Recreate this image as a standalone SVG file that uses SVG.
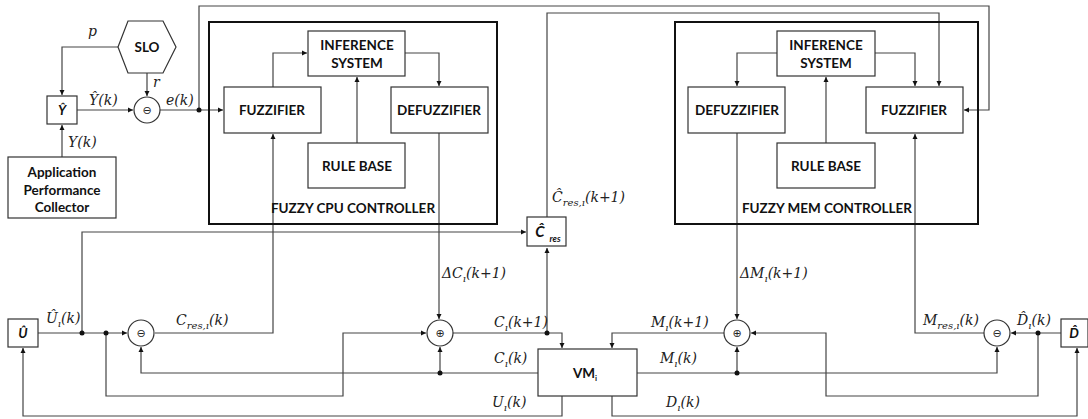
<svg xmlns="http://www.w3.org/2000/svg" width="1088" height="419" viewBox="0 0 1088 419">
<style>
.b{fill:#fff;stroke:#333;stroke-width:1.2}
.cb{fill:none;stroke:#111;stroke-width:2}
.t{font-family:Lato,"Open Sans",sans-serif;font-weight:bold;font-size:13.5px;fill:#111;text-anchor:middle}
.m{font-family:"DejaVu Serif","Liberation Serif",serif;font-style:italic;font-size:14px;fill:#222}
.s{font-size:10px}
.c{fill:none;stroke:#444;stroke-width:1.2}
.a{marker-end:url(#ah)}
.j{fill:#111}
.op{font-family:"DejaVu Sans",sans-serif;font-size:11px;fill:#222;text-anchor:middle}
</style>
<defs>
<marker id="ah" markerWidth="6" markerHeight="6" refX="5" refY="3" orient="auto" markerUnits="userSpaceOnUse">
<path d="M0,0.5 L5,3 L0,5.5 Z" fill="#111"/>
</marker>
</defs>

<g id="connectors">
<path class="c a" d="M118,47 H62 V95"/>
<path class="c a" d="M147,73 V96"/>
<path class="c a" d="M77,110 H133"/>
<path class="c a" d="M160,110 H223"/>
<path class="c a" d="M199,110 V6 H989 V110 H964"/>
<path class="c a" d="M62,157 V125"/>
<path class="c a" d="M273,87 V53 H307"/>
<path class="c a" d="M405,53 H439 V86"/>
<path class="c a" d="M357,143 V77"/>
<path class="c a" d="M439,133 V319"/>
<path class="c a" d="M155,333 H273 V134"/>
<path class="c a" d="M38,333 H127"/>
<path class="c a" d="M82,333 V232 H526"/>
<path class="c a" d="M106,333 V396 H343 V333 H426"/>
<path class="c a" d="M538,373 H141 V347"/>
<path class="c a" d="M440,373 V347"/>
<path class="c a" d="M453,333 H562 V348"/>
<path class="c a" d="M547,333 V248"/>
<path class="c a" d="M547,217 V13 H939 V86"/>
<path class="c a" d="M562,396 V416 H23 V348"/>
<path class="c a" d="M777,53 H737 V86"/>
<path class="c a" d="M875,53 H915 V86"/>
<path class="c a" d="M826,143 V77"/>
<path class="c a" d="M737,133 V319"/>
<path class="c a" d="M724,333 H612 V348"/>
<path class="c a" d="M637,373 H997 V347"/>
<path class="c a" d="M737,373 V347"/>
<path class="c a" d="M1061,333 H1011"/>
<path class="c a" d="M1038,333 V396 H826 V333 H751"/>
<path class="c a" d="M612,396 V416 H1077 V348"/>
<path class="c a" d="M984,333 H915 V134"/>
<circle class="j" cx="199" cy="110" r="2.5"/>
<circle class="j" cx="82" cy="333" r="2.5"/>
<circle class="j" cx="106" cy="333" r="2.5"/>
<circle class="j" cx="440" cy="373" r="2.5"/>
<circle class="j" cx="547" cy="333" r="2.5"/>
<circle class="j" cx="737" cy="373" r="2.5"/>
<circle class="j" cx="1038" cy="333" r="2.5"/>
</g>

<g id="labels">
<text class="m" x="88" y="36">p</text>
<text class="m" x="153" y="87">r</text>
<text class="m" x="89" y="105">Ŷ(k)</text>
<text class="m" x="166" y="105">e(k)</text>
<text class="m" x="68" y="147">Y(k)</text>
<text class="m" x="552" y="202">Ĉ<tspan class="s" dy="4">res,ı</tspan><tspan dy="-4">(k+1)</tspan></text>
<text class="m" x="46" y="323">Û<tspan class="s" dy="4">ı</tspan><tspan dy="-4">(k)</tspan></text>
<text class="m" x="176" y="325">C<tspan class="s" dy="4">res,ı</tspan><tspan dy="-4">(k)</tspan></text>
<text class="m" x="442" y="278">ΔC<tspan class="s" dy="4">ı</tspan><tspan dy="-4">(k+1)</tspan></text>
<text class="m" x="494" y="327">C<tspan class="s" dy="4">ı</tspan><tspan dy="-4">(k+1)</tspan></text>
<text class="m" x="494" y="363">C<tspan class="s" dy="4">ı</tspan><tspan dy="-4">(k)</tspan></text>
<text class="m" x="492" y="407">U<tspan class="s" dy="4">ı</tspan><tspan dy="-4">(k)</tspan></text>
<text class="m" x="740" y="278">ΔM<tspan class="s" dy="4">ı</tspan><tspan dy="-4">(k+1)</tspan></text>
<text class="m" x="651" y="327">M<tspan class="s" dy="4">ı</tspan><tspan dy="-4">(k+1)</tspan></text>
<text class="m" x="660" y="363">M<tspan class="s" dy="4">ı</tspan><tspan dy="-4">(k)</tspan></text>
<text class="m" x="666" y="407">D<tspan class="s" dy="4">ı</tspan><tspan dy="-4">(k)</tspan></text>
<text class="m" x="923" y="325">M<tspan class="s" dy="4">res,ı</tspan><tspan dy="-4">(k)</tspan></text>
<text class="m" x="1017" y="325">D̂<tspan class="s" dy="4">ı</tspan><tspan dy="-4">(k)</tspan></text>
</g>

<g id="slo"><polygon class="b" points="118,47 128,21 163,21 176,47 163,73 128,73"/><text class="t" x="147" y="52">SLO</text></g>
<g id="yhat"><rect class="b" x="47" y="96" width="30" height="28"/><text class="t" x="62" y="115" style="font-style:italic">Ŷ</text></g>
<g id="sub1"><circle class="b" cx="147" cy="110" r="13"/><text class="op" x="147" y="114">⊖</text></g>
<g id="collector"><rect class="b" x="8" y="157" width="108" height="61"/>
<text class="t" x="62" y="177">Application</text><text class="t" x="62" y="195">Performance</text><text class="t" x="62" y="212">Collector</text></g>

<g id="cpu">
<rect class="cb" x="209" y="22" width="288" height="202"/>
<text class="t" x="353" y="213">FUZZY CPU CONTROLLER</text>
</g>
<g id="cpu-fuzz"><rect class="b" x="224" y="87" width="97" height="46"/><text class="t" x="272" y="115">FUZZIFIER</text></g>
<g id="cpu-inf"><rect class="b" x="308" y="31" width="97" height="45"/><text class="t" x="357" y="50">INFERENCE</text><text class="t" x="357" y="68">SYSTEM</text></g>
<g id="cpu-defuzz"><rect class="b" x="391" y="87" width="97" height="46"/><text class="t" x="439" y="115">DEFUZZIFIER</text></g>
<g id="cpu-rule"><rect class="b" x="308" y="143" width="97" height="45"/><text class="t" x="357" y="171">RULE BASE</text></g>

<g id="mem">
<rect class="cb" x="675" y="22" width="303" height="202"/>
<text class="t" x="827" y="213">FUZZY MEM CONTROLLER</text>
</g>
<g id="mem-defuzz"><rect class="b" x="688" y="87" width="97" height="46"/><text class="t" x="737" y="115">DEFUZZIFIER</text></g>
<g id="mem-inf"><rect class="b" x="777" y="31" width="98" height="45"/><text class="t" x="826" y="50">INFERENCE</text><text class="t" x="826" y="68">SYSTEM</text></g>
<g id="mem-fuzz"><rect class="b" x="866" y="87" width="97" height="46"/><text class="t" x="914" y="115">FUZZIFIER</text></g>
<g id="mem-rule"><rect class="b" x="777" y="143" width="98" height="45"/><text class="t" x="826" y="171">RULE BASE</text></g>

<g id="chat"><rect class="b" x="527" y="217" width="39" height="29"/><text class="t" x="540" y="237" style="font-style:italic;font-size:15px">Ĉ</text><text class="t" x="555" y="242" style="font-style:italic;font-size:9px">res</text></g>
<g id="uhat"><rect class="b" x="8" y="319" width="30" height="28"/><text class="t" x="23" y="338" style="font-style:italic">Û</text></g>
<g id="dhat"><rect class="b" x="1061" y="319" width="27" height="28"/><text class="t" x="1074" y="338" style="font-style:italic">D̂</text></g>
<g id="sub-cpu"><circle class="b" cx="141" cy="333" r="13"/><text class="op" x="141" y="337">⊖</text></g>
<g id="add-cpu"><circle class="b" cx="440" cy="333" r="13"/><text class="op" x="440" y="337">⊕</text></g>
<g id="add-mem"><circle class="b" cx="737" cy="333" r="13"/><text class="op" x="737" y="337">⊕</text></g>
<g id="sub-mem"><circle class="b" cx="997" cy="333" r="13"/><text class="op" x="997" y="337">⊖</text></g>
<g id="vm"><rect class="b" x="538" y="349" width="99" height="47"/><text class="t" x="585" y="378">VM<tspan dy="3" style="font-size:8px">i</tspan></text></g>
</svg>
